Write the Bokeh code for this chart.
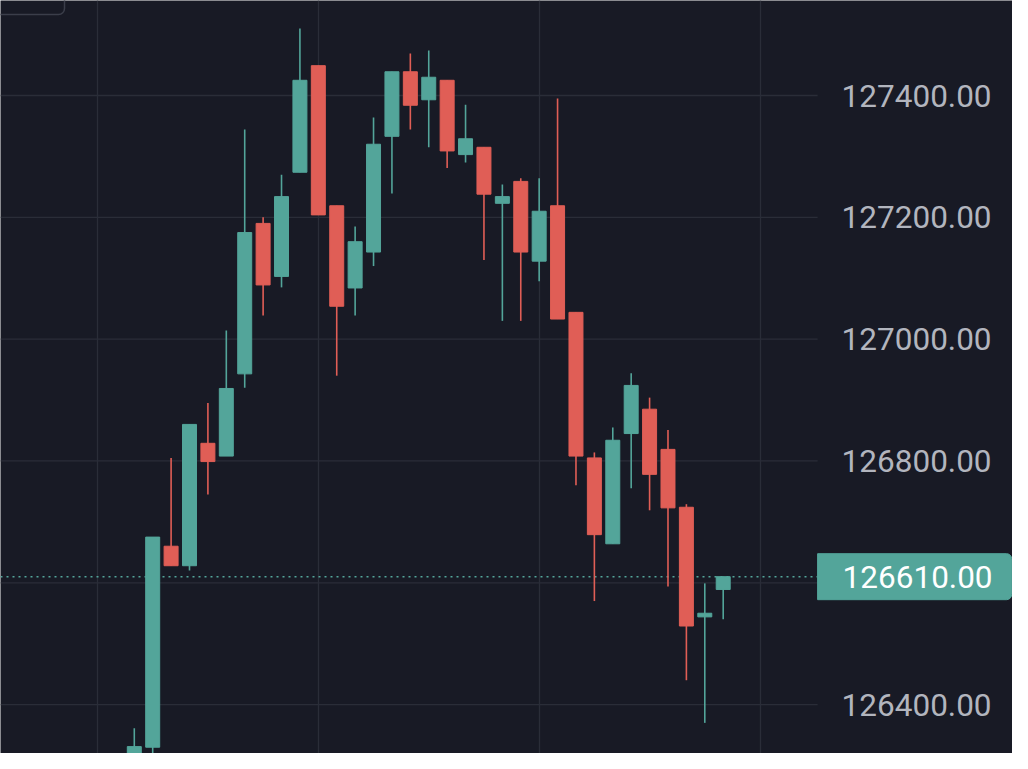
from bokeh.plotting import figure
from bokeh.models import Range1d, FixedTicker, Grid, ColumnDataSource
from bokeh.core.properties import value
from bokeh.embed import file_html
from bokeh.resources import INLINE

# ---- data ----
idx = list(range(33))
opens = [126285, 126330, 126660, 126628, 126829, 126808, 126943, 127190, 127103, 127274,
         127449, 127219, 127084, 127143, 127333, 127439, 127393, 127425, 127303, 127315,
         127223, 127259, 127128, 127219, 127044, 126805, 126664, 126845, 126885, 126819,
         126724, 126544, 126589]
highs = [126361, 126675, 126805, 126860, 126895, 127014, 127344, 127200, 127270, 127510,
         127449, 127219, 127185, 127364, 127439, 127469, 127474, 127425, 127385, 127315,
         127254, 127264, 127264, 127395, 127044, 126814, 126855, 126944, 126904, 126851,
         126729, 126599, 126610]
lows = [126270, 126290, 126628, 126620, 126745, 126808, 126920, 127039, 127085, 127274,
        127204, 126940, 127039, 127120, 127239, 127344, 127315, 127281, 127290, 127130,
        127030, 127030, 127095, 127033, 126760, 126570, 126664, 126755, 126719, 126594,
        126440, 126370, 126540]
closes = [126331, 126675, 126628, 126860, 126799, 126919, 127175, 127089, 127234, 127425,
          127204, 127054, 127160, 127320, 127439, 127384, 127430, 127309, 127329, 127238,
          127234, 127143, 127210, 127033, 126808, 126679, 126834, 126924, 126778, 126723,
          126529, 126550, 126610]
price_ticks = [126400, 126600, 126800, 127000, 127200, 127400]
time_grid = [-2, 10, 22, 34]
last_price = 126610

# ---- style ----
BG = "#181a25"
GRID = "#2a2d38"
UP = "#53a59a"
DOWN = "#e05e56"
LABEL = "#b2b5be"
FONT = "Roboto"
FS = "31.5px"

W, H = 1012, 753
X0, X_PLOT_END, X1 = -7.27, 37.13, 47.72       # frame start, price-scale edge, frame end
Y0, Y1 = 126319.7, 127556.0
PX_X = (X1 - X0) / W          # data units per screen pixel
PX_Y = (Y1 - Y0) / H

p = figure(width=W, height=H, output_backend="svg", toolbar_location=None,
           x_range=Range1d(X0, X1), y_range=Range1d(Y0, Y1),
           x_axis_location=None, y_axis_location=None,
           background_fill_color=BG, border_fill_color=BG,
           min_border=0)
p.outline_line_color = None
p.grid.visible = False

# vertical grid (time)
p.add_layout(Grid(dimension=0, ticker=FixedTicker(ticks=time_grid),
                  grid_line_color=GRID, grid_line_width=1.3))

# horizontal grid, stopping at the price scale
p.segment(x0=[X0] * len(price_ticks), x1=[X_PLOT_END] * len(price_ticks),
          y0=price_ticks, y1=price_ticks, line_color=GRID, line_width=1.3)

# last price dotted line
p.segment(x0=[X0], x1=[X_PLOT_END], y0=[last_price], y1=[last_price],
          line_color=UP, line_dash="2 4", line_width=1.6)

# candles
colors = [UP if c >= o else DOWN for o, c in zip(opens, closes)]
src = ColumnDataSource(dict(x=idx, high=highs, low=lows,
                            top=[max(o, c) for o, c in zip(opens, closes)],
                            bottom=[min(o, c) for o, c in zip(opens, closes)],
                            color=colors))
p.segment(x0="x", x1="x", y0="low", y1="high", color="color", line_width=1.6, source=src)
p.vbar(x="x", width=0.76, top="top", bottom="bottom", fill_color="color",
       line_color="color", line_width=1, source=src)

# price scale labels
shown = [t for t in price_ticks if abs(t - last_price) > 60]
p.text(x=[X_PLOT_END] * len(shown), y=shown, text=["%.2f" % t for t in shown],
       x_offset=24, text_baseline="middle", text_align="left",
       text_font=value(FONT), text_font_size=FS, text_color=LABEL)

# last price badge
box = p.quad(left=[X_PLOT_END], right=[X_PLOT_END + 194 * PX_X],
             top=[last_price + 23 * PX_Y], bottom=[last_price - 23 * PX_Y],
             fill_color=UP, line_color=UP)
try:
    box.glyph.border_radius = (0, 5, 5, 0)
except Exception:
    pass
p.text(x=[X_PLOT_END], y=[last_price], text=["%.2f" % last_price],
       x_offset=25, text_baseline="middle", text_align="left",
       text_font=value(FONT), text_font_size=FS, text_color="#ffffff")

# partial button outline at the top-left corner
btn = p.quad(left=[X0 - 20 * PX_X], right=[X0 + 64 * PX_X],
             top=[Y1 + 20 * PX_Y], bottom=[Y1 - 14 * PX_Y],
             fill_alpha=0, line_color="#3b3e4a", line_width=1.5)
try:
    btn.glyph.border_radius = 6
except Exception:
    pass

open("out.html", "w").write(file_html(p, INLINE))
